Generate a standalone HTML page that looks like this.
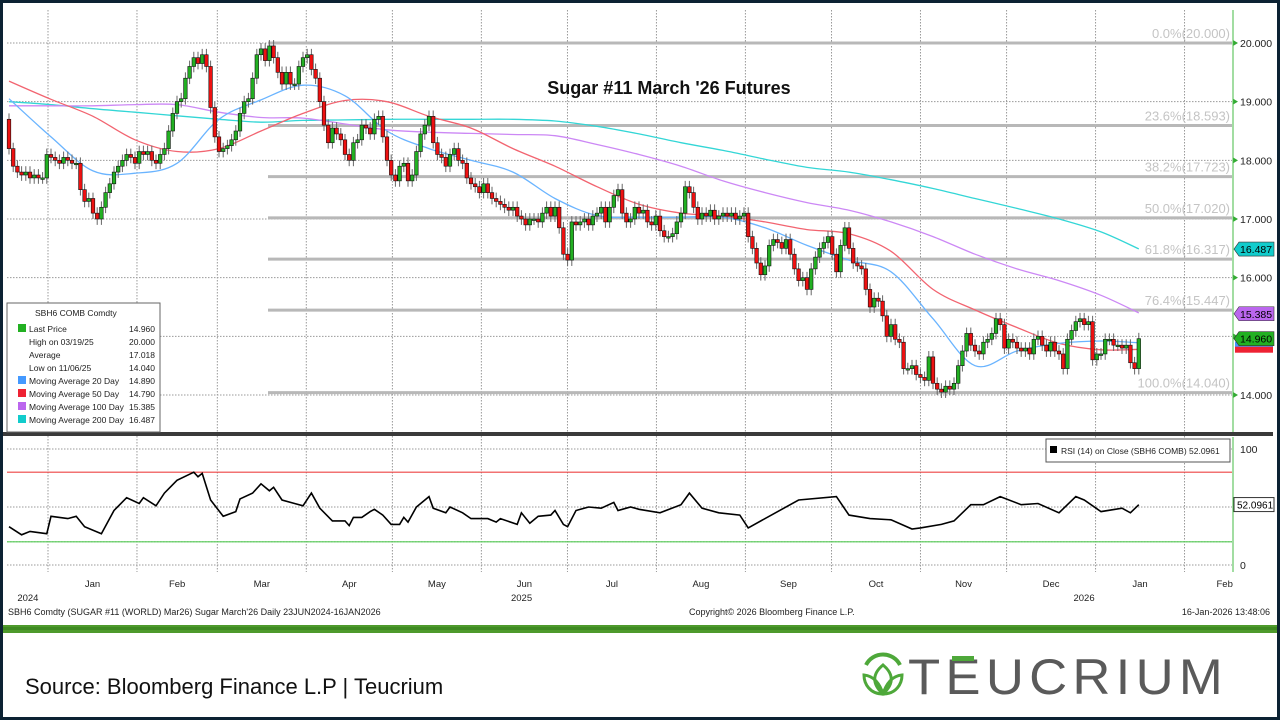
<!DOCTYPE html>
<html><head><meta charset="utf-8"><style>
html,body{margin:0;padding:0;background:#0c2233;}
svg{display:block;font-family:"Liberation Sans",sans-serif;}
</style></head><body>
<svg id="chart" width="1280" height="720" viewBox="0 0 1280 720">
<rect x="3" y="3" width="1274" height="714" fill="#ffffff"/>
<g id="grid"></g>
<g id="fib"></g>
<g id="mas"></g>
<g id="candles"></g>
<g id="rsi"></g>
<g id="axes"></g>
<text x="669" y="94" text-anchor="middle" font-size="18" font-weight="bold" fill="#111">Sugar #11 March '26 Futures</text>
<rect x="3" y="432" width="1270" height="4" fill="#3a3a3a"/>
<line x1="1233" y1="10" x2="1233" y2="432" stroke="#44bb44" stroke-width="1"/>
<line x1="1233" y1="437" x2="1233" y2="572" stroke="#44bb44" stroke-width="1"/>
<g>
<rect x="7" y="303" width="153" height="129" fill="#fff" stroke="#666" stroke-width="1"/>
<g font-size="8.5" fill="#222">
<text x="35" y="316">SBH6 COMB Comdty</text>
<rect x="18" y="324" width="8" height="8" fill="#22b022"/>
<text x="29" y="332">Last Price</text><text x="155" y="332" text-anchor="end">14.960</text>
<text x="29" y="345">High on 03/19/25</text><text x="155" y="345" text-anchor="end">20.000</text>
<text x="29" y="358">Average</text><text x="155" y="358" text-anchor="end">17.018</text>
<text x="29" y="371">Low on 11/06/25</text><text x="155" y="371" text-anchor="end">14.040</text>
<rect x="18" y="376" width="8" height="8" fill="#4499ff"/>
<text x="29" y="384">Moving Average 20 Day</text><text x="155" y="384" text-anchor="end">14.890</text>
<rect x="18" y="389" width="8" height="8" fill="#ee2233"/>
<text x="29" y="397">Moving Average 50 Day</text><text x="155" y="397" text-anchor="end">14.790</text>
<rect x="18" y="402" width="8" height="8" fill="#bb66ee"/>
<text x="29" y="410">Moving Average 100 Day</text><text x="155" y="410" text-anchor="end">15.385</text>
<rect x="18" y="415" width="8" height="8" fill="#11cccc"/>
<text x="29" y="423">Moving Average 200 Day</text><text x="155" y="423" text-anchor="end">16.487</text>
</g></g>
<g>
<rect x="1046" y="439" width="184" height="23" fill="#fff" stroke="#555"/>
<rect x="1050" y="446" width="7" height="7" fill="#000"/>
<text x="1061" y="454" font-size="8.5" fill="#222">RSI (14)  on Close (SBH6 COMB) 52.0961</text>
</g>
<g font-size="9" fill="#222">
<text x="8" y="615">SBH6 Comdty (SUGAR #11 (WORLD) Mar26) Sugar March'26 Daily 23JUN2024-16JAN2026</text>
<text x="689" y="615">Copyright© 2026 Bloomberg Finance L.P.</text>
<text x="1270" y="615" text-anchor="end">16-Jan-2026 13:48:06</text>
</g>
<rect x="3" y="625" width="1274" height="8" fill="#4e9a2c"/>
<rect x="3" y="627" width="1274" height="3" fill="#3f8a22"/>
<text x="25" y="694" font-size="22" fill="#111">Source: Bloomberg Finance L.P | Teucrium</text>
<g>
<path d="M866 665 A19 19 0 0 1 900 665" fill="none" stroke="#4ea83a" stroke-width="4"/>
<path d="M883 694 C872 684 872 674 883 665 C894 674 894 684 883 694Z" fill="none" stroke="#4ea83a" stroke-width="3"/>
<path d="M883 694 C870 694 864 684 864 675 C874 676 880 684 883 694Z" fill="none" stroke="#4ea83a" stroke-width="3"/>
<path d="M883 694 C896 694 902 684 902 675 C892 676 886 684 883 694Z" fill="none" stroke="#4ea83a" stroke-width="3"/>
<text x="908" y="694" font-size="50" fill="#5a5a5a" letter-spacing="5" textLength="320" lengthAdjust="spacingAndGlyphs">TEUCRIUM</text>
<rect x="952" y="656" width="22" height="5" fill="#4ea83a"/>
</g>
</svg>
<script>
// ---- data ----
const firstOpen = 18.7;
const closes = [18.2,17.9,17.8,17.75,17.8,17.7,17.75,17.7,17.7,18.1,18.05,18.0,17.95,18.05,18.0,17.95,17.95,17.5,17.3,17.35,17.1,17.0,17.2,17.45,17.6,17.8,17.9,18.0,18.1,18.05,17.95,18.15,18.1,18.15,18.0,17.95,18.1,18.2,18.5,18.8,19.0,19.05,19.4,19.6,19.75,19.65,19.8,19.6,18.9,18.4,18.15,18.2,18.25,18.35,18.5,18.8,19.0,19.05,19.4,19.8,19.9,19.7,19.95,19.75,19.5,19.3,19.5,19.3,19.3,19.6,19.75,19.8,19.55,19.4,19.0,18.6,18.3,18.55,18.45,18.35,18.1,18.0,18.3,18.35,18.6,18.55,18.45,18.7,18.75,18.4,18.0,17.75,17.65,17.9,17.95,17.65,17.75,18.15,18.45,18.6,18.75,18.3,18.1,18.05,17.9,18.1,18.2,18.0,17.95,17.7,17.6,17.55,17.45,17.6,17.45,17.35,17.3,17.25,17.2,17.15,17.2,17.05,17.0,16.9,17.0,17.0,16.95,17.1,17.2,17.05,17.2,16.85,16.4,16.3,16.95,16.9,16.95,17.0,16.9,17.05,17.1,17.2,16.95,17.2,17.4,17.5,17.1,16.95,17.0,17.2,17.1,17.15,16.95,16.9,17.05,16.8,16.7,16.7,16.75,16.95,17.1,17.55,17.45,17.2,17.0,17.1,17.05,17.15,17.0,17.05,17.1,17.05,17.1,17.0,17.05,17.1,16.7,16.5,16.25,16.05,16.2,16.55,16.65,16.6,16.5,16.65,16.4,16.15,15.95,16.0,15.8,16.15,16.35,16.5,16.6,16.7,16.4,16.1,16.55,16.85,16.5,16.25,16.2,16.15,15.8,15.5,15.65,15.6,15.35,15.0,15.2,14.95,14.9,14.45,14.45,14.5,14.35,14.3,14.25,14.65,14.2,14.1,14.05,14.15,14.1,14.2,14.5,14.75,15.05,14.85,14.75,14.7,14.9,14.95,15.05,15.3,15.2,14.8,14.95,14.9,14.8,14.75,14.8,14.7,14.95,15.0,14.85,14.75,14.9,14.75,14.7,14.45,14.95,15.1,15.25,15.3,15.2,15.25,14.6,14.7,14.7,14.95,14.95,14.85,14.85,14.8,14.85,14.55,14.45,14.96];
const maIdx = [0,10,20,30,40,50,60,70,80,90,100,110,120,130,140,150,160,170,180,190,200,210,220,230,240,250,260,269];
const ma20 = [19.05,18.4,17.82,17.78,17.95,18.7,19.03,19.28,19.1,18.5,18.2,18.0,17.8,17.35,17.06,17.03,17.03,17.03,16.85,16.55,16.3,16.1,15.3,14.5,14.75,14.88,14.92,14.89];
const ma50 = [19.35,19.04,18.75,18.35,18.15,18.2,18.5,18.8,19.02,19.0,18.75,18.55,18.2,17.9,17.55,17.25,17.1,17.05,16.95,16.82,16.75,16.45,15.8,15.45,15.15,14.88,14.77,14.78];
const ma100 = [18.93,18.93,18.93,18.95,18.95,18.82,18.73,18.72,18.62,18.52,18.48,18.46,18.44,18.42,18.27,18.1,17.9,17.65,17.45,17.28,17.15,16.95,16.7,16.4,16.15,15.95,15.7,15.4];
const ma200 = [19.0,18.95,18.88,18.82,18.76,18.7,18.65,18.68,18.69,18.7,18.7,18.7,18.7,18.67,18.58,18.45,18.3,18.17,18.02,17.88,17.8,17.67,17.52,17.35,17.18,17.0,16.78,16.49];
const rsiIdx = [0,3,5,9,10,14,16,18,22,25,28,31,32,35,37,40,44,45,46,48,51,54,55,58,60,62,63,65,68,70,72,74,77,80,81,82,84,86,87,89,91,93,94,95,97,100,101,104,105,108,110,112,114,116,117,121,122,124,126,129,130,132,133,135,138,141,144,145,148,150,155,160,162,165,169,174,176,184,188,197,200,205,210,215,217,222,225,229,232,236,241,245,250,254,256,260,265,267,269];
const rsiVals = [33,26,29,27,42,40,42,33,27,47,58,53,58,51,62,73,80,76,79,56,42,46,57,62,70,64,67,56,53,51,62,49,38,38,34,41,41,46,48,43,35,35,41,37,50,59,49,45,50,45,40,40,40,37,40,35,45,36,42,43,47,35,33,47,50,49,54,47,50,48,45,52,62,49,45,43,32,48,56,59,43,40,39,31,32,35,38,52,52,59,52,53,45,59,56,46,49,45,52];
const fibPct = ["0.0%","23.6%","38.2%","50.0%","61.8%","76.4%","100.0%"];
const fibVal = [20.0,18.593,17.723,17.02,16.317,15.447,14.04];
const priceTicks = [14,15,16,17,18,19,20];
const rsiTicks = [0,100];
const months = ["Jan","Feb","Mar","Apr","May","Jun","Jul","Aug","Sep","Oct","Nov","Dec","Jan","Feb"];
const monthStartDay = [0,31,59,90,120,151,181,212,243,273,304,334,365,396];
const monthLen = [31,28,31,30,31,30,31,31,30,31,30,31,31,28];
const years = ["2024","2025","2026"];
const yearDay = [-7,165,361];
const tagVals = [16.487,15.385,14.960];
const tagColors = ["#11cccc","#bb66ee","#22b022"];

// ---- scales ----
const yP = p => 43 + (20 - p) * 58.67;
const xI = i => 9 + i * 4.2;
const xD = d => 48 + d * 2.87;
const yR = v => 507 - (v - 50) * 1.16;
const NS = "http://www.w3.org/2000/svg";
function mk(tag, attrs, parent){const e=document.createElementNS(NS,tag);for(const k in attrs)e.setAttribute(k,attrs[k]);parent.appendChild(e);return e;}
function smoothPath(xs, ys){
  let d='M'+xs[0].toFixed(1)+' '+ys[0].toFixed(1);
  for(let k=0;k<xs.length-1;k++){
    const x0=xs[Math.max(0,k-1)],y0=ys[Math.max(0,k-1)],x1=xs[k],y1=ys[k],x2=xs[k+1],y2=ys[k+1],x3=xs[Math.min(xs.length-1,k+2)],y3=ys[Math.min(xs.length-1,k+2)];
    d+=' C'+(x1+(x2-x0)/6).toFixed(1)+' '+(y1+(y2-y0)/6).toFixed(1)+' '+(x2-(x3-x1)/6).toFixed(1)+' '+(y2-(y3-y1)/6).toFixed(1)+' '+x2.toFixed(1)+' '+y2.toFixed(1);
  }
  return d;
}

const grid = document.getElementById('grid');
priceTicks.forEach(p=>{
  const l=mk('line',{x1:7,x2:1232,y1:yP(p),y2:yP(p),stroke:'#999','stroke-dasharray':'1.5,1.5','stroke-width':1},grid);
  
  
});
[20,50,100].forEach(v=>{
  const l=mk('line',{x1:7,x2:1232,y1:yR(v),y2:yR(v),stroke:'#999','stroke-dasharray':'1.5,1.5'},grid);
  
  
});
mk('line',{x1:7,x2:1232,y1:yR(0),y2:yR(0),stroke:'#999','stroke-dasharray':'1.5,1.5'},grid);
monthStartDay.forEach(d=>{
  const x=xD(d); if(x>1232) return;
  const l=mk('line',{x1:x,x2:x,y1:10,y2:572,stroke:'#999','stroke-dasharray':'1.5,1.5'},grid);
  
  
});

const fib = document.getElementById('fib');
fibVal.forEach((v,k)=>{
  const l=mk('line',{x1:268,x2:1232,y1:yP(v),y2:yP(v),stroke:'#b8b8b8','stroke-width':3},fib);
  
  
  const t=mk('text',{x:1230,y:yP(v)-5,'text-anchor':'end','font-size':13,fill:'#c4c4c4'},fib);
  t.textContent=fibPct[k]+"("+v.toFixed(3)+")";
  
  
});

const mas = document.getElementById('mas');
[[ma200,'#33d6d6'],[ma100,'#cc88f5'],[ma50,'#f26470'],[ma20,'#6ab4ff']].forEach(([arr,col])=>{
  const pl=mk('path',{d:smoothPath(maIdx.map(xI),arr.map(yP)),fill:'none',stroke:col,'stroke-width':1.3},mas);
  
  
});

const cg = document.getElementById('candles');
closes.forEach((c,i)=>{
  const o = i===0?firstOpen:closes[i-1];
  const hi=Math.max(o,c)+0.1, lo=Math.min(o,c)-0.1;
  const x=xI(i);
  const w=mk('line',{x1:x,x2:x,y1:yP(hi),y2:yP(lo),stroke:'#666','stroke-width':1},cg);
  
  
  const top=yP(Math.max(o,c)), h=Math.max(1.5,yP(Math.min(o,c))-top);
  const b=mk('rect',{x:x-1.8,y:top,width:3.6,height:h,fill:c>=o?'#22b022':'#ee1111',stroke:'#111','stroke-width':0.6},cg);
  
  
});

const rg=document.getElementById('rsi');
const l80=mk('line',{x1:7,x2:1232,y1:yR(80),y2:yR(80),stroke:'#ee4444','stroke-width':1.2},rg);


const l20=mk('line',{x1:7,x2:1232,y1:yR(20),y2:yR(20),stroke:'#55cc55','stroke-width':1.2},rg);


const rp=mk('polyline',{points:rsiVals.map((v,k)=>xI(rsiIdx[k]).toFixed(1)+','+yR(v).toFixed(1)).join(' '),fill:'none',stroke:'#000','stroke-width':1.6},rg);



const ax=document.getElementById('axes');
priceTicks.forEach(p=>{
  const t=mk('text',{x:1240,y:yP(p)+4,'font-size':10.5,fill:'#222'},ax);
  t.textContent=p.toFixed(3);
  
  
  mk('path',{d:`M1233 ${yP(p)-3} L1238 ${yP(p)} L1233 ${yP(p)+3}Z`,fill:'#33aa33'},ax);
});
rsiTicks.forEach(v=>{
  const t=mk('text',{x:1240,y:yR(v)+4,'font-size':10.5,fill:'#222'},ax);
  t.textContent=String(v);
  
  
});
const rt=mk('rect',{x:1234,y:yR(52.0961)-7,width:40,height:14,fill:'#fff',stroke:'#333'},ax);


const rtt=mk('text',{x:1237,y:yR(52.0961)+4,'font-size':10,fill:'#000'},ax);
rtt.textContent='52.0961';
mk('rect',{x:1235,y:yP(14.96)+3,width:38,height:6,fill:'#4499ff'},ax);
mk('rect',{x:1235,y:yP(14.96)+8,width:38,height:6,fill:'#ee2233'},ax);
tagVals.forEach((v,k)=>{
  const y=yP(v);
  const r=mk('path',{d:`M1234 ${y} L1239 ${y-7} L1274 ${y-7} L1274 ${y+7} L1239 ${y+7}Z`,fill:tagColors[k],stroke:'#333','stroke-width':0.6},ax);
  
  
  const t=mk('text',{x:1240,y:y+4,'font-size':10.5,fill:'#000'},ax);
  t.textContent=v.toFixed(3);
});
months.forEach((m,k)=>{
  const t=mk('text',{x:xD(monthStartDay[k]+monthLen[k]/2),y:587,'text-anchor':'middle','font-size':9.5,fill:'#222'},ax);
  t.textContent=m;
  
  
});
years.forEach((y,k)=>{
  const t=mk('text',{x:xD(yearDay[k]),y:601,'text-anchor':'middle','font-size':9.5,fill:'#222'},ax);
  t.textContent=y;
  
  
});
</script>
</body></html>
